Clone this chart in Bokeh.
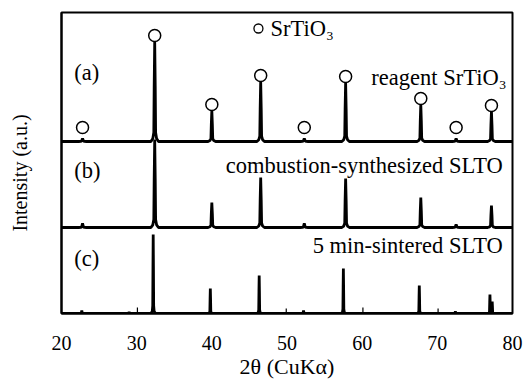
from bokeh.plotting import figure
from bokeh.models import Range1d, FixedTicker, Label
from bokeh.embed import file_html
from bokeh.resources import INLINE
from bokeh.core.properties import value

# ---------------- data ----------------
x_ticks = [20, 30, 40, 50, 60, 70, 80]

# (a) reagent SrTiO3 : peak positions (2θ) and heights (a.u.)
a_pos = [22.8, 32.4, 40.0, 46.5, 52.3, 57.8, 67.8, 72.5, 77.2]
a_hgt = [3, 100, 31, 60, 3, 59, 37, 3, 30]

# (b) combustion-synthesized SLTO
b_pos = [22.8, 32.4, 40.0, 46.5, 52.3, 57.8, 67.8, 72.5, 77.2]
b_hgt = [4, 88, 25, 50, 4, 49, 30, 3, 22]

# (c) 5 min-sintered SLTO
c_pos = [22.7, 29.0, 32.2, 39.8, 46.3, 52.2, 57.5, 67.6, 72.4, 77.0, 77.3]
c_hgt = [3, 1.5, 79, 25, 38, 3, 45, 28, 2, 19, 12]
# (c) very sharp spikes
c_spike_pos = [30.1, 49.9, 60.1, 70.1]
c_spike_hgt = [6, 5, 6, 5]

# SrTiO3 marker peaks (drawn on pattern a)
marker_pos = a_pos
marker_hgt = a_hgt

# vertical offsets of the stacked patterns
off_a, off_b, off_c = 172, 86, 0

FONT = "Liberation Serif"

# peak profile template (offset in degrees, fraction of height)
prof_wide = ([-0.5, -0.25, -0.12, -0.07, 0, 0.07, 0.12, 0.25, 0.5],
             [0, 0.03, 0.09, 0.55, 1, 0.55, 0.09, 0.03, 0])
prof_narrow = ([-0.3, -0.12, -0.06, -0.03, 0, 0.03, 0.06, 0.12, 0.3],
               [0, 0.03, 0.1, 0.6, 1, 0.6, 0.1, 0.03, 0])


def trace(pos, hgt, off, prof):
    xs, ys = [20.0], [off]
    dx, fr = prof
    for p, h in sorted(zip(pos, hgt)):
        for d, f in zip(dx, fr):
            xs.append(p + d)
            ys.append(off + h * f)
    xs.append(80.0)
    ys.append(off)
    return xs, ys


p = figure(width=526, height=383, output_backend="svg", toolbar_location=None,
           x_range=Range1d(20, 80), y_range=Range1d(0, 301),
           min_border_left=61, min_border_right=14, min_border_top=12, min_border_bottom=70)
p.grid.visible = False
p.outline_line_color = "black"
p.outline_line_width = 2
p.background_fill_color = "white"

for pos, hgt, off, prof in [(a_pos, a_hgt, off_a, prof_wide),
                            (b_pos, b_hgt, off_b, prof_wide),
                            (c_pos, c_hgt, off_c, prof_narrow)]:
    xs, ys = trace(pos, hgt, off, prof)
    p.line(xs, ys, line_color="black", line_width=2.8)

p.segment(x0=c_spike_pos, y0=[off_c] * len(c_spike_pos), x1=c_spike_pos,
          y1=[off_c + h for h in c_spike_hgt], line_color="black", line_width=1.2)

mk_y = [off_a + max(h, 8) + 6 for h in marker_hgt]
p.scatter(marker_pos, mk_y, marker="circle", size=12, fill_color="white",
          line_color="black", line_width=1.5)

# legend marker
p.scatter([46.2], [285], marker="circle", size=9, fill_color="white",
          line_color="black", line_width=1.3)

txt = dict(text_font=FONT, text_font_size="22.5px", text_color="black")
p.add_layout(Label(x=47.8, y=285, text="SrTiO₃", text_align="left", text_baseline="middle", **txt))
p.add_layout(Label(x=21.7, y=241, text="(a)", text_align="left", text_baseline="middle", **txt))
p.add_layout(Label(x=21.7, y=143, text="(b)", text_align="left", text_baseline="middle", **txt))
p.add_layout(Label(x=21.7, y=55, text="(c)", text_align="left", text_baseline="middle", **txt))
p.add_layout(Label(x=79.2, y=236, text="reagent SrTiO₃", text_align="right", text_baseline="middle", **txt))
p.add_layout(Label(x=78.7, y=148, text="combustion-synthesized SLTO", text_align="right", text_baseline="middle", **txt))
p.add_layout(Label(x=78.7, y=68, text="5 min-sintered SLTO", text_align="right", text_baseline="middle", **txt))

xa = p.xaxis[0]
xa.ticker = FixedTicker(ticks=x_ticks)
xa.major_tick_line_color = None
xa.minor_tick_line_color = None
xa.major_tick_out = 0
xa.major_tick_in = 0
xa.major_label_standoff = 22
xa.major_label_text_font = FONT
xa.major_label_text_font_size = "20px"
xa.major_label_text_color = "black"
xa.axis_label = "2θ (CuKα)"
xa.axis_label_text_font = FONT
xa.axis_label_text_font_size = "22px"
xa.axis_label_text_font_style = "normal"
xa.axis_label_text_color = "black"
xa.axis_label_standoff = 1
xa.axis_line_width = 2

ya = p.yaxis[0]
ya.ticker = FixedTicker(ticks=[])
ya.major_tick_line_color = None
ya.minor_tick_line_color = None
ya.major_tick_out = 0
ya.major_tick_in = 0
ya.major_label_standoff = 0
ya.axis_label = "Intensity (a.u.)" + "\u00a0" * 4
ya.axis_label_text_font = FONT
ya.axis_label_text_font_size = "20px"
ya.axis_label_text_font_style = "normal"
ya.axis_label_text_color = "black"
ya.axis_label_standoff = 31
ya.axis_line_width = 2

open("out.html", "w").write(file_html(p, INLINE))
